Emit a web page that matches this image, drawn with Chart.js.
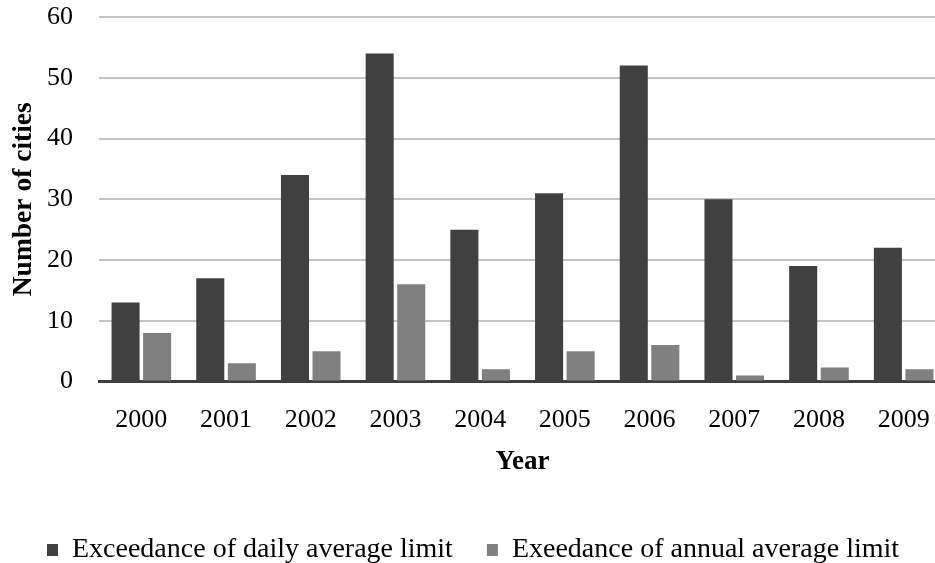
<!DOCTYPE html>
<html>
<head>
<meta charset="utf-8">
<script src="https://cdn.jsdelivr.net/npm/chart.js@4/dist/chart.umd.min.js"></script>
<style>
  html, body { margin: 0; padding: 0; background: #fff; overflow: hidden; }
  #wrap { width: 960px; height: 563px; }
</style>
</head>
<body>
<div id="wrap"><canvas id="barChart"></canvas></div>
<script>
const years = ['2000', '2001', '2002', '2003', '2004', '2005', '2006', '2007', '2008', '2009'];
const dailyExceed = [13, 17, 34, 54, 25, 31, 52, 30, 19, 22];
const annualExceed = [8, 3, 5, 16, 2, 5, 6, 1, 2.3, 2];
const yTicks = [0, 10, 20, 30, 40, 50, 60];

const serif = 'Liberation Serif, Times New Roman, serif';

const data = {
    labels: years,
    datasets: [{
        label: 'Exceedance of daily average limit',
        data: dailyExceed,
        backgroundColor: '#404040',
        categoryPercentage: 0.745,
        barPercentage: 0.889
    }, {
        label: 'Exeedance of annual average limit',
        data: annualExceed,
        backgroundColor: '#808080',
        categoryPercentage: 0.745,
        barPercentage: 0.889
    }]
};

const config = {
    type: 'bar',
    data: data,
    options: {
        responsive: true,
        maintainAspectRatio: false,
        animation: false,
        layout: { padding: { top: 17, right: 14, bottom: -11, left: 0 } },
        plugins: {
            tooltip: { enabled: false },
            legend: {
                position: 'bottom',
                labels: {
                    color: '#000',
                    boxWidth: 11,
                    boxHeight: 12,
                    padding: 34,
                    font: { family: serif, size: 28 }
                }
            }
        },
        scales: {
            x: {
                grid: { display: false, drawTicks: false },
                border: { display: true, color: '#404040', width: 3 },
                ticks: { color: '#000', padding: 23, font: { family: serif, size: 26 } },
                title: {
                    display: true,
                    text: 'Year',
                    color: '#000',
                    font: { family: serif, size: 27, weight: 'bold' },
                    padding: { top: 0, bottom: 24 }
                },
                // keep the plot bottom at the reference position
                afterFit: function (scale) { scale.height = 120.5; }
            },
            y: {
                min: 0,
                max: 60,
                afterBuildTicks: function (scale) {
                    scale.ticks = yTicks.map(v => ({ value: v }));
                },
                grid: { color: '#c4c4c4', lineWidth: 2, drawTicks: false },
                border: { display: false },
                ticks: { color: '#000', padding: 26, font: { family: serif, size: 26 } },
                title: {
                    display: true,
                    text: 'Number of cities',
                    color: '#000',
                    font: { family: serif, size: 27.5, weight: 'bold' },
                    padding: { top: 7, bottom: 0 }
                },
                afterFit: function (scale) {
                    scale.width = 99;
                    scale.paddingTop = 0;
                    scale.paddingBottom = 0;
                }
            }
        }
    }
};

new Chart(document.getElementById('barChart').getContext('2d'), config);
</script>
</body>
</html>
